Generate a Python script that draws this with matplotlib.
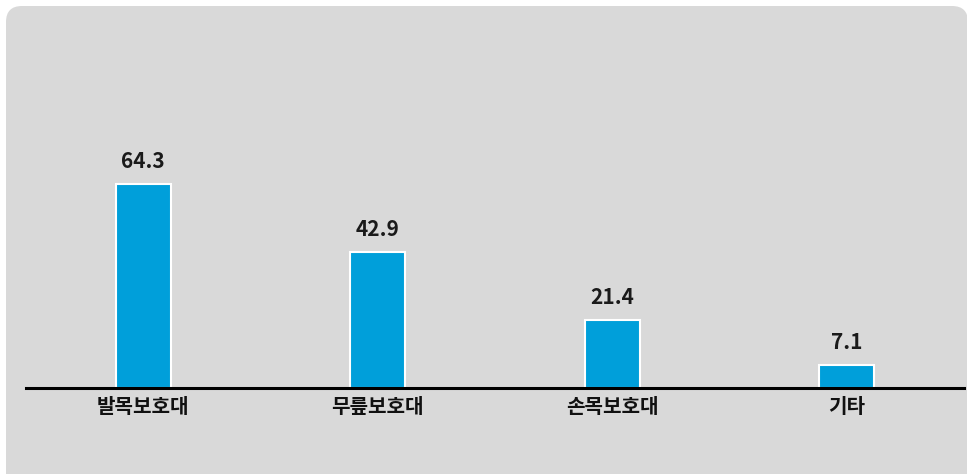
import matplotlib
matplotlib.use("Agg")
import matplotlib.pyplot as plt
from matplotlib.patches import FancyBboxPatch
from matplotlib.transforms import IdentityTransform

plt.rcParams['font.family'] = ['Noto Sans CJK KR', 'DejaVu Sans']

categories = ['발목보호대', '무릎보호대', '손목보호대', '기타']
values = [64.3, 42.9, 21.4, 7.1]
value_labels = ['64.3', '42.9', '21.4', '7.1']

W, H, DPI = 967, 474, 100
fig = plt.figure(figsize=(W / DPI, H / DPI), dpi=DPI, facecolor='white')

bg = FancyBboxPatch((6, -30), 962, 474 - 6 + 30,
                    boxstyle="round,pad=0,rounding_size=16",
                    transform=IdentityTransform(), facecolor='#D9D9D9',
                    edgecolor='none', zorder=-10)
fig.patches.append(bg)

ax = fig.add_axes([26 / W, (H - 388) / H, (964 - 26) / W, (388 - 6) / H])
ax.set_zorder(1)
ax.set_facecolor('none')
x = list(range(len(categories)))
bars = ax.bar(x, values, width=0.235, color='#009FDA', edgecolor='white', linewidth=1.5, zorder=2)
ax.set_xlim(-0.5, 3.5)
ax.set_ylim(0, 382 / 3.172)

for xi, v, lab in zip(x, values, value_labels):
    ax.annotate(lab, (xi, v), xytext=(0, 12), textcoords='offset pixels',
                ha='center', va='bottom', fontsize=15, fontweight='bold',
                color='#1a1a1a')

ax.set_xticks(x)
ax.set_xticklabels(categories, fontsize=14.5, fontweight='bold', color='#111111')
ax.tick_params(axis='x', length=0, pad=6)
ax.set_yticks([])
for s in ['top', 'left', 'right']:
    ax.spines[s].set_visible(False)
ax.spines['bottom'].set_linewidth(2.2)
ax.spines['bottom'].set_color('black')
ax.spines['bottom'].set_zorder(3)

fig.savefig('out.png', dpi=DPI, facecolor='white')
